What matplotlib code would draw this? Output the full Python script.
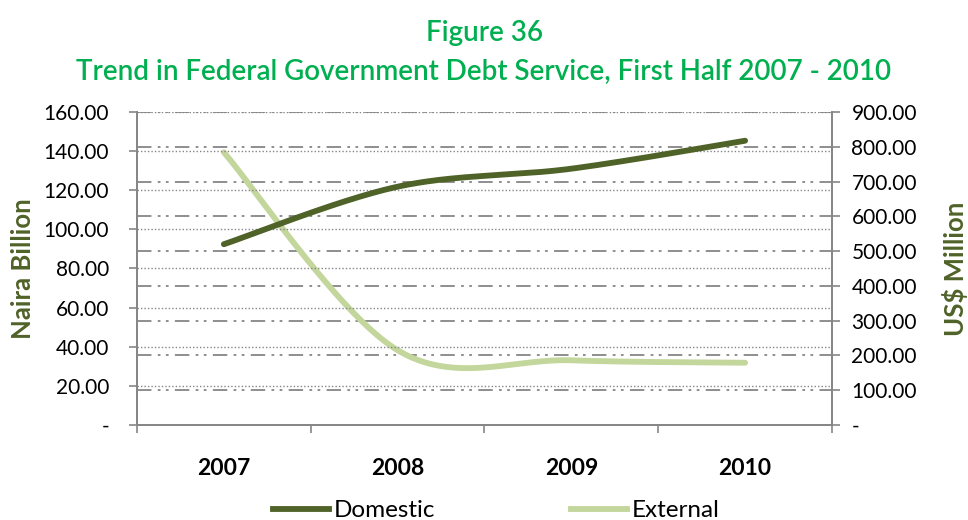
import numpy as np
import matplotlib.pyplot as plt
from matplotlib.lines import Line2D

# Data
years = ["2007", "2008", "2009", "2010"]
domestic = [92.4, 121.8, 131.0, 145.3]      # Naira billion (left axis)
external = [784.0, 215.0, 186.0, 179.0]     # US$ million (right axis)

dark_green = "#4F6228"
light_green = "#C3D69B"
title_green = "#00B050"
grid_grey = "#868686"

plt.rcParams["font.family"] = ["Lato", "DejaVu Sans"]


def smooth(xs, ys, n=60):
    """Excel-style smoothed line: Catmull-Rom segments as cubic Bezier."""
    pts = np.column_stack([xs, ys]).astype(float)
    out = []
    for i in range(len(pts) - 1):
        p0 = pts[max(i - 1, 0)]
        p1 = pts[i]
        p2 = pts[i + 1]
        p3 = pts[min(i + 2, len(pts) - 1)]
        c1 = p1 + (p2 - p0) / 6.0
        c2 = p2 - (p3 - p1) / 6.0
        t = np.linspace(0, 1, n)[:, None]
        seg = ((1 - t) ** 3) * p1 + 3 * ((1 - t) ** 2) * t * c1 \
            + 3 * (1 - t) * t ** 2 * c2 + t ** 3 * p2
        out.append(seg if i == 0 else seg[1:])
    seg = np.vstack(out)
    return seg[:, 0], seg[:, 1]


fig = plt.figure(figsize=(9.68, 5.2), dpi=100)
ax = fig.add_axes([0.1415, 0.1827, 0.718, 0.602])
ax2 = ax.twinx()

x = np.arange(len(years))

# gridlines: dotted for left axis, dash-dot-dot for right axis
for v in np.arange(20, 161, 20):
    ax.axhline(v, color=grid_grey, lw=1.0, ls=(0, (1, 1.5)), zorder=0)
for v in np.arange(100, 901, 100):
    ax2.axhline(v, color=grid_grey, lw=1.3, ls=(0, (8, 3.5, 1.5, 3, 1.5, 3.5)), zorder=0)

xd, yd = smooth(x, domestic)
xe, ye = smooth(x, external)
ax.plot(xd, yd, color=dark_green, lw=4.2, solid_capstyle="round", zorder=3)
ax2.plot(xe, ye, color=light_green, lw=4.2, solid_capstyle="round", zorder=3)
ax.set_zorder(ax2.get_zorder() + 1)
ax.patch.set_visible(False)

ax.set_xlim(-0.5, 3.5)
ax.set_ylim(0, 160)
ax2.set_ylim(0, 900)

ax.set_xticks(np.arange(-0.5, 3.6, 1))
ax.set_xticklabels([])
ax.set_xticks(x, minor=True)
ax.set_xticklabels(years, minor=True, fontsize=16.5, fontweight="bold")
ax.tick_params(axis="x", which="minor", length=0, pad=24)
ax.tick_params(axis="x", which="major", length=6, color=grid_grey, width=1.2)

ax.set_yticks(np.arange(0, 161, 20))
ax.set_yticklabels(["-"] + [f"{v:.2f}" for v in np.arange(20, 161, 20)], fontsize=15)
ax2.set_yticks(np.arange(0, 901, 100))
ax2.set_yticklabels(["-"] + [f"{v:.2f}" for v in np.arange(100, 901, 100)], fontsize=15)
ax.tick_params(axis="y", length=6, color=grid_grey, width=1.2, pad=14)
ax2.tick_params(axis="y", length=6, color=grid_grey, width=1.2, pad=8)

for a in (ax, ax2):
    for side in ("left", "right", "bottom", "top"):
        a.spines[side].set_color(grid_grey)
        a.spines[side].set_linewidth(1.3)
    a.spines["top"].set_visible(False)

ax.set_ylabel("Naira Billion", fontsize=18.5, fontweight="bold", color=dark_green, labelpad=6)
ax2.set_ylabel("US$ Million", fontsize=18.5, fontweight="bold", color=dark_green, labelpad=18)

fig.text(0.5, 0.937, "Figure 36", ha="center", va="center", fontsize=20,
         color=title_green, fontweight="semibold")
fig.text(0.5, 0.862, "Trend in Federal Government Debt Service, First Half 2007 - 2010",
         ha="center", va="center", fontsize=20, color=title_green, fontweight="semibold")

handles = [Line2D([], [], color=dark_green, lw=4.2),
           Line2D([], [], color=light_green, lw=4.2)]
fig.legend(handles, ["Domestic", "External"], loc="center", bbox_to_anchor=(0.513, 0.018),
           ncol=2, frameon=False, fontsize=17.5, handlelength=2.3, handletextpad=0.2,
           columnspacing=5.6)

fig.savefig("out.png", dpi=100)
